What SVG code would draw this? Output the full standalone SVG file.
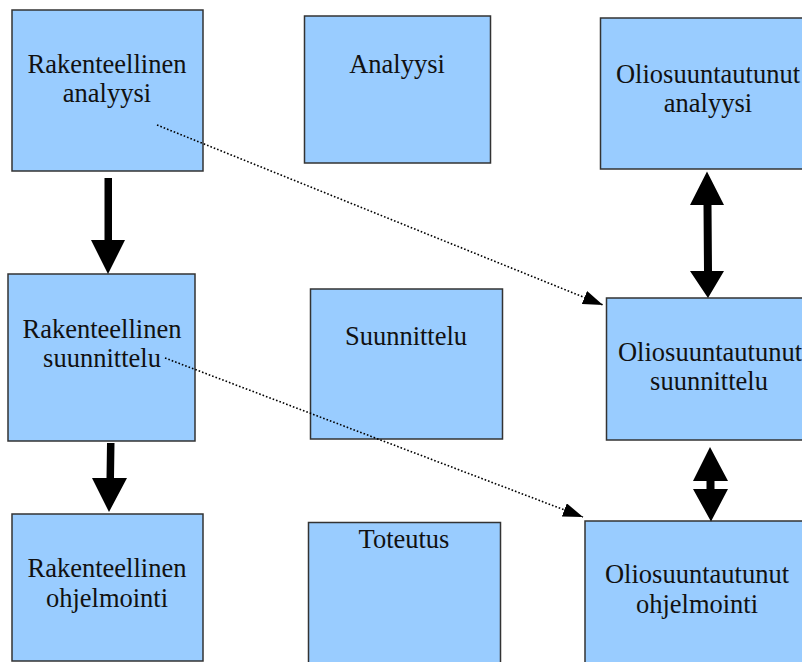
<svg xmlns="http://www.w3.org/2000/svg" width="802" height="662" viewBox="0 0 802 662">
  <style>
    .box { fill: #99ccff; stroke: #333333; stroke-width: 1.5; }
    .lbl { font-family: "Liberation Serif", "Times New Roman", serif; font-size: 26.5px; fill: #111111; text-anchor: middle; }
    .solid { fill: #000000; }
    .dot { fill: none; stroke: #000000; stroke-width: 1.6; stroke-dasharray: 1.6 2; }
  </style>
  <defs>
    <marker id="head" markerUnits="userSpaceOnUse" markerWidth="20" markerHeight="14" refX="20" refY="7" orient="auto">
      <path d="M0,0 L20,7 L0,14 z" fill="#000000"/>
    </marker>
  </defs>
  <rect width="802" height="662" fill="#ffffff"/>

  <g id="rakenteellinen-analyysi">
    <rect class="box" x="12" y="10" width="191" height="161"/>
    <text class="lbl" x="107" y="73">Rakenteellinen</text>
    <text class="lbl" x="107" y="102">analyysi</text>
  </g>
  <g id="rakenteellinen-suunnittelu">
    <rect class="box" x="8" y="274" width="187" height="167"/>
    <text class="lbl" x="102" y="338">Rakenteellinen</text>
    <text class="lbl" x="102" y="367">suunnittelu</text>
  </g>
  <g id="rakenteellinen-ohjelmointi">
    <rect class="box" x="12" y="514" width="191" height="147"/>
    <text class="lbl" x="107" y="577">Rakenteellinen</text>
    <text class="lbl" x="107" y="607">ohjelmointi</text>
  </g>
  <g id="analyysi">
    <rect class="box" x="304.5" y="16" width="186" height="147"/>
    <text class="lbl" x="397" y="73">Analyysi</text>
  </g>
  <g id="suunnittelu">
    <rect class="box" x="310.5" y="289" width="192" height="150"/>
    <text class="lbl" x="406" y="345">Suunnittelu</text>
  </g>
  <g id="toteutus">
    <rect class="box" x="308.5" y="522.5" width="192" height="160"/>
    <text class="lbl" x="404" y="548">Toteutus</text>
  </g>
  <g id="oliosuuntautunut-analyysi">
    <rect class="box" x="600.5" y="18" width="220" height="151"/>
    <text class="lbl" x="708" y="83">Oliosuuntautunut</text>
    <text class="lbl" x="708" y="112">analyysi</text>
  </g>
  <g id="oliosuuntautunut-suunnittelu">
    <rect class="box" x="606.5" y="298" width="220" height="142"/>
    <text class="lbl" x="710" y="361">Oliosuuntautunut</text>
    <text class="lbl" x="709" y="390">suunnittelu</text>
  </g>
  <g id="oliosuuntautunut-ohjelmointi">
    <rect class="box" x="585" y="521" width="240" height="160"/>
    <text class="lbl" x="697" y="583">Oliosuuntautunut</text>
    <text class="lbl" x="697" y="613">ohjelmointi</text>
  </g>

  <g id="connectors">
    <!-- structured flow: analysis -> design -> programming -->
    <polygon class="solid" points="104.5,178 112,178 112,240 125,240 108,274 91,240 104.5,240"/>
    <polygon class="solid" points="107,443 114.5,443 114,478 127,478 109,512 92,478 106.5,478"/>
    <!-- object-oriented phases, two-way -->
    <polygon class="solid" points="707,171.5 724,205 711.5,205 712,271 724,271 708,298 690,271 704,271 703.5,205 690,205"/>
    <polygon class="solid" points="710,447 728,481 714.5,481 714.5,489 728,489 711,521.5 693,489 706.5,489 706.5,481 693,481"/>
    <!-- structured to object-oriented mappings -->
    <line class="dot" x1="157" y1="125" x2="603" y2="305" marker-end="url(#head)"/>
    <line class="dot" x1="165" y1="358" x2="583" y2="517" marker-end="url(#head)"/>
  </g>
</svg>
